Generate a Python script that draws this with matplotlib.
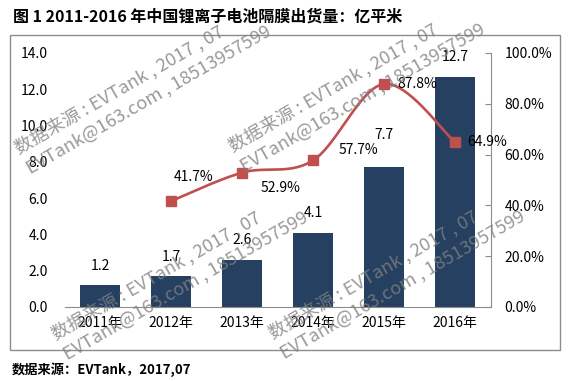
import numpy as np
import matplotlib
matplotlib.use("Agg")
import matplotlib.pyplot as plt
from matplotlib.patches import Rectangle

plt.rcParams['font.family'] = ['Noto Sans CJK SC', 'DejaVu Sans']

# ---- data ----
categories = ['2011年', '2012年', '2013年', '2014年', '2015年', '2016年']
shipments = [1.2, 1.7, 2.6, 4.1, 7.7, 12.7]          # 亿平米
growth_years = [1, 2, 3, 4, 5]                         # index into categories (2012-2016)
growth = [0.417, 0.529, 0.577, 0.878, 0.649]
left_ticks = [0, 2, 4, 6, 8, 10, 12, 14]
right_ticks = [0, 0.2, 0.4, 0.6, 0.8, 1.0]
title = '图 1 2011-2016 年中国锂离子电池隔膜出货量：亿平米'
source = '数据来源：EVTank，2017,07'
watermark = '数据来源 : EVTank , 2017 , 07\nEVTank@163.com , 18513957599'

W, H = 583, 381
fig = plt.figure(figsize=(W / 100, H / 100), dpi=100)

# outer frame
fig.patches.append(Rectangle((10 / W, 1 - 350 / H), 550 / W, 315 / H,
                             transform=fig.transFigure, fill=False,
                             edgecolor='#8c8c8c', linewidth=1.0, zorder=0))

ax = fig.add_axes([64.5 / W, 1 - 307 / H, 426 / W, 254 / H])
ax2 = ax.twinx()
ax.set_zorder(1)
ax2.set_zorder(2)
ax.patch.set_visible(False)
ax2.patch.set_visible(False)

x = np.arange(len(categories))
bar_color = '#254061'
bars = ax.bar(x, shipments, width=0.56, color=bar_color, zorder=2)
ax.set_xlim(-0.5, len(categories) - 0.5)
ax.set_ylim(0, 14)
ax.set_yticks(left_ticks)
ax.set_yticklabels([f'{v:.1f}' for v in left_ticks])
ax.set_xticks(x)
ax.set_xticklabels(categories)
ax.tick_params(axis='x', length=0, pad=6.5, labelsize=10)
ax.tick_params(axis='y', length=0, pad=12, labelsize=10)
for s in ['top', 'left', 'right']:
    ax.spines[s].set_visible(False)
ax.spines['bottom'].set_color('#8c8c8c')

bar_offsets = [9, 9, 9, 9, 18, 9]
for xi, v, off in zip(x, shipments, bar_offsets):
    ax.annotate(f'{v:.1f}', (xi, v), xytext=(0, off), textcoords='offset points',
                ha='center', va='bottom', fontsize=10, color='black')

# smoothed line (Catmull-Rom style, like Excel smoothing)
gx = np.array(growth_years, dtype=float)
gy = np.array(growth, dtype=float)
P = np.column_stack([gx, gy])
curve = []
n = len(P)
for i in range(n - 1):
    p0 = P[i - 1] if i > 0 else P[i]
    p1 = P[i]
    p2 = P[i + 1]
    p3 = P[i + 2] if i + 2 < n else P[i + 1]
    c1 = p1 + (p2 - p0) / 6.0
    c2 = p2 - (p3 - p1) / 6.0
    t = np.linspace(0, 1, 40)[:, None]
    seg = ((1 - t) ** 3) * p1 + 3 * ((1 - t) ** 2) * t * c1 + 3 * (1 - t) * t ** 2 * c2 + t ** 3 * p2
    curve.append(seg if i == 0 else seg[1:])
curve = np.vstack(curve)
line_color = '#C0504D'
ax2.plot(curve[:, 0], curve[:, 1], color=line_color, linewidth=1.9, zorder=3,
         solid_capstyle='round')
ax2.plot(gx, gy, linestyle='none', marker='s', markersize=7, color=line_color, zorder=4)
ax2.set_ylim(0, 1)
ax2.set_yticks(right_ticks)
ax2.set_yticklabels([f'{v * 100:.1f}%' for v in right_ticks])
ax2.tick_params(axis='y', direction='in', length=4, color='#8c8c8c', pad=10, labelsize=10)
for s in ['top', 'left', 'bottom']:
    ax2.spines[s].set_visible(False)
ax2.spines['right'].set_color('#8c8c8c')

label_offsets = [(16.5, 17.3), (28, -10.8), (33, 7.2), (24, 0), (23, 0)]
for xi, v, off in zip(gx, gy, label_offsets):
    ax2.annotate(f'{v * 100:.1f}%', (xi, v), xytext=off, textcoords='offset points',
                 ha='center', va='center', fontsize=10, color='black')

fig.text(13 / W, 1 - 17 / H, title, fontsize=11.5, fontweight='bold', ha='left', va='center')
fig.text(12 / W, 1 - 370 / H, source, fontsize=9.5, fontweight='bold', ha='left', va='center')

# watermarks
wm_centers = [(143, 90), (357, 88), (180, 276), (397, 275)]
for cx, cy in wm_centers:
    fig.text(cx / W, 1 - cy / H, watermark, fontsize=13.2, color='#808080', alpha=0.8,
             fontweight='light',
             rotation=30, rotation_mode='anchor', ha='center', va='center',
             multialignment='left', linespacing=1.3, zorder=10)

fig.savefig('out.png', dpi=100)
